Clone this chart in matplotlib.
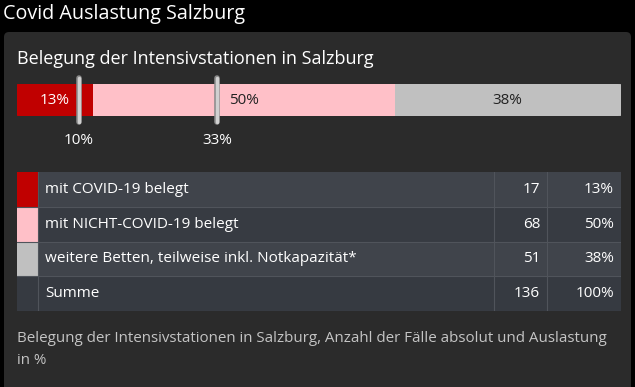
import matplotlib
matplotlib.use("Agg")
import matplotlib.pyplot as plt
from matplotlib.patches import FancyBboxPatch, Rectangle
from matplotlib.lines import Line2D
import matplotlib.patheffects as pe

# ---- data ----
categories = ["mit COVID-19 belegt", "mit NICHT-COVID-19 belegt",
              "weitere Betten, teilweise inkl. Notkapazität*"]
counts = [17, 68, 51]
percents = ["13%", "50%", "38%"]
colors = ["#c00000", "#ffc0c8", "#c0c0c0"]
label_colors = ["white", "#222222", "#222222"]
markers = [0.10, 0.33]
marker_labels = ["10%", "33%"]
total_label = "Summe"
total_count = 136
total_percent = "100%"

FONT = ["Open Sans", "DejaVu Sans"]
plt.rcParams["font.family"] = FONT

W, H = 635, 387
fig = plt.figure(figsize=(W / 100, H / 100), dpi=100, facecolor="black")

def fbox(x0, y0, x1, y1):
    return [x0 / W, 1 - y1 / H, (x1 - x0) / W, (y1 - y0) / H]

FS = 11
bg = fig.add_axes([0, 0, 1, 1])
bg.set_xlim(0, W)
bg.set_ylim(H, 0)
bg.axis("off")
bg.add_patch(FancyBboxPatch((4, 32), 627, 400, boxstyle="round,pad=0,rounding_size=5",
                            facecolor="#2b2b2b", edgecolor="none"))
bg.text(3, 14, "Covid Auslastung Salzburg", color="white", fontsize=14.2, va="center", ha="left")
bg.text(17, 59, "Belegung der Intensivstationen in Salzburg", color="white", fontsize=13,
        va="center", ha="left")
bg.text(17, 339, "Belegung der Intensivstationen in Salzburg, Anzahl der Fälle absolut und Auslastung",
        color="#c4c4c4", fontsize=10.9, va="center", ha="left")
bg.text(17, 361, "in %", color="#c4c4c4", fontsize=10.9, va="center", ha="left")

# ---- stacked bar ----
bx = fig.add_axes(fbox(17, 84, 621, 116))
bx.set_xlim(0, total_count)
bx.set_ylim(-0.5, 0.5)
bx.axis("off")
clip = FancyBboxPatch((0, 0), 1, 1, boxstyle="round,pad=0,rounding_size=0.006",
                      transform=bx.transAxes, facecolor="none", edgecolor="none")
bx.add_patch(clip)
left = 0
for c, v, col, p, lc in zip(categories, counts, colors, percents, label_colors):
    bars = bx.barh(0, v, left=left, height=1, color=col, linewidth=0)
    for b in bars:
        b.set_clip_path(clip)
    bx.text(left + v / 2, 0, p, color=lc, fontsize=FS, ha="center", va="center")
    left += v

for m, ml in zip(markers, marker_labels):
    xm = m * total_count + 0.25
    ln = Line2D([xm, xm], [-0.7, 0.7], color="#d0d0d0", linewidth=2.5, solid_capstyle="round",
                clip_on=False,
                path_effects=[pe.Stroke(linewidth=4, foreground="#8a8a8a"), pe.Normal()])
    bx.add_line(ln)
    bx.text(xm, -1.25, ml, color="white", fontsize=FS, ha="center", va="center", clip_on=False)

# ---- table ----
tx = fig.add_axes(fbox(17, 172, 621, 311))
tx.set_xlim(0, 604)
tx.set_ylim(4, 0)
tx.axis("off")
row_bg = ["#40444b", "#373b42", "#40444b", "#363a41"]
col_x = [0, 21, 477, 530, 604]
rows = list(zip(categories, counts, percents, colors)) + [(total_label, total_count, total_percent, None)]
for i, (lab, cnt, pct, col) in enumerate(rows):
    tx.add_patch(Rectangle((0, i), 604, 1, facecolor=row_bg[i], edgecolor="none"))
    if col is not None:
        tx.add_patch(Rectangle((0, i), 21, 1, facecolor=col, edgecolor="none"))
    tx.text(col_x[1] + 7, i + 0.5, lab, color="white", fontsize=FS, ha="left", va="center")
    tx.text(col_x[3] - 7, i + 0.5, str(cnt), color="white", fontsize=FS, ha="right", va="center")
    tx.text(col_x[4] - 7, i + 0.5, pct, color="white", fontsize=FS, ha="right", va="center")
for i in range(1, 5):
    tx.plot([0, 604], [i, i], color="#50545b", linewidth=0.8)
for xc in col_x[1:4]:
    tx.plot([xc, xc], [0, 4], color="#50545b", linewidth=0.8)

fig.savefig("out.png", dpi=100, facecolor="black")
